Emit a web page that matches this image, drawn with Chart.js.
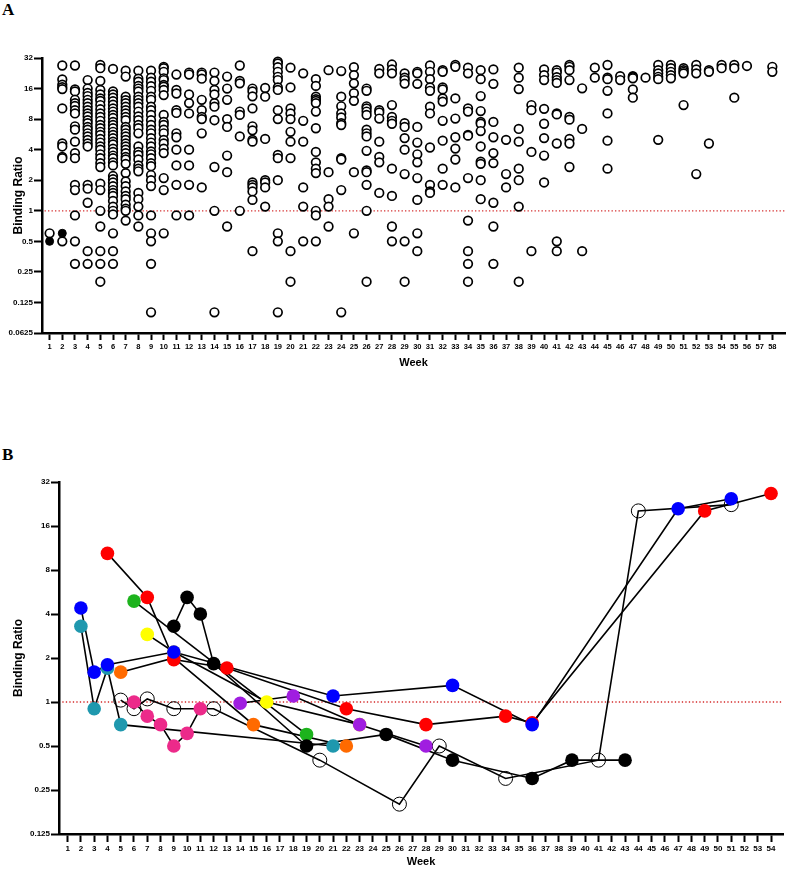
<!DOCTYPE html>
<html lang="en">
<head>
<meta charset="UTF-8">
<title>Binding Ratio by Week</title>
<script src="https://cdn.jsdelivr.net/npm/chart.js"></script>
<style>
  body { margin: 0; background: #fff; width: 791px; height: 869px; position: relative; overflow: hidden; }
  .panel-label { position: absolute; left: 2px; font: bold 17px "Liberation Serif", "Times New Roman", serif; line-height: 17px; color: #000; }
  canvas { position: absolute; left: 0; }
</style>
</head>
<body>
<div class="panel-label" style="top:1px">A</div>
<canvas id="chartA" width="791" height="385" style="top:0;width:791px;height:385px"></canvas>
<div class="panel-label" style="top:446px">B</div>
<canvas id="chartB" width="791" height="479" style="top:390px;width:791px;height:479px"></canvas>

<script>
// ---- panel A: all samples, binding ratio per week ----
var weekTicksA = [1,2,3,4,5,6,7,8,9,10,11,12,13,14,15,16,17,18,19,20,21,22,23,24,25,26,27,28,29,
                  30,31,32,33,34,35,36,37,38,39,40,41,42,43,44,45,46,47,48,49,50,51,52,53,54,55,56,57,58];
var ratioTicksA = [0.0625, 0.125, 0.25, 0.5, 1, 2, 4, 8, 16, 32];

// open circles, one list per week (week 1 .. 58)
var ratiosA = [
  [0.6],
  [27, 19.7, 17.5, 16.5, 15.8, 10.2, 4.6, 4.3, 3.4, 3.3, 0.5],
  [27, 15.7, 15, 12.4, 11.5, 10.8, 9.8, 9.1, 6.8, 6.3, 4.8, 3.7, 3.3, 1.8, 1.6, 0.9, 0.5, 0.3],
  [19.4, 16, 14.5, 13.5, 12.4, 11.5, 10.6, 9.8, 9.1, 8.5, 7.8, 7.3, 6.7, 6.3, 5.8, 5.4, 5.0, 4.6, 4.3, 1.8, 1.65, 1.2, 0.4, 0.3],
  [27.3, 25.4, 19, 15.5, 14, 12.8, 12.1, 11, 10, 9.1, 8.4, 7.7, 7.0, 6.5, 6.0, 5.6, 5.1, 4.7, 4.3, 4.0, 3.6, 3.3, 2.95, 2.7, 1.85, 1.6, 1.0, 0.7, 0.4, 0.3, 0.2],
  [25, 15, 14, 13, 12, 11.1, 10.2, 9.5, 8.8, 8.2, 7.5, 7, 6.5, 6, 5.6, 5.2, 4.8, 4.5, 4.1, 3.8, 3.5, 3.3, 3.0, 2.8, 2.2, 2.05, 1.9, 1.75, 1.6, 1.5, 1.4, 1.25, 1.1, 1.0, 0.92, 0.6, 0.4, 0.3],
  [24, 21, 13.3, 12.3, 11.5, 10.6, 9.8, 9.1, 8.4, 7.8, 6.7, 6.3, 5.8, 5.4, 5.0, 4.6, 4.3, 4.0, 3.7, 3.4, 3.2, 2.9, 2.35, 1.95, 1.75, 1.55, 1.4, 1.3, 1.15, 1.05, 1.0, 0.8],
  [24, 20, 18.7, 17, 16, 15, 13.3, 12.4, 11.5, 10.6, 9.5, 8.5, 7.8, 7.0, 6.5, 5.8, 4.3, 3.8, 3.55, 3.2, 2.8, 2.6, 2.45, 1.5, 1.3, 1.1, 0.9, 0.7],
  [24, 20.5, 18.7, 16.9, 15.2, 13.3, 12.4, 10.6, 9.8, 8.8, 7.8, 7.0, 6.3, 5.8, 5.2, 4.7, 4.3, 3.85, 3.6, 3.3, 2.95, 2.75, 2.25, 2.0, 1.75, 0.9, 0.6, 0.5, 0.3, 0.1],
  [26.2, 25.4, 23.4, 20.2, 19.4, 17.4, 16.7, 15.5, 13.8, 8.8, 7.5, 7.0, 6.3, 5.8, 5.0, 4.6, 4.1, 3.7, 2.1, 1.6, 0.6],
  [22, 15.5, 14.3, 9.8, 9.2, 5.8, 5.3, 4, 2.8, 1.8, 0.9],
  [23, 22, 14, 11.5, 9.1, 4, 2.8, 1.8, 0.9],
  [23, 22, 20, 12.4, 9.8, 8.4, 8, 5.8, 1.7],
  [23, 19, 15.5, 14, 11.5, 10.6, 7.8, 2.7, 1.0, 0.1],
  [21, 16, 12.4, 8, 6.7, 3.5, 2.4, 0.7],
  [27, 19, 18, 9.5, 8.8, 5.4, 1.0],
  [16, 15, 13.4, 10.2, 6.8, 6.2, 5, 4.8, 1.9, 1.8, 1.7, 1.55, 1.28, 0.4],
  [16.2, 13.3, 5.1, 2.0, 1.9, 1.7, 1.1],
  [29.4, 28.3, 26, 23.4, 20.9, 19.4, 16.4, 15.5, 9.8, 8, 3.55, 3.3, 2.0, 0.6, 0.5, 0.1],
  [25.7, 16.4, 10.2, 9.1, 8, 6.0, 4.8, 3.3, 0.4, 0.2],
  [22.6, 7.7, 4.8, 1.7, 1.1, 0.5],
  [19.8, 17, 13.3, 12.6, 12.1, 11.5, 9.5, 6.5, 3.8, 3.0, 2.6, 2.35, 1.0, 0.9, 0.5],
  [24.3, 2.4, 1.3, 1.1, 0.7],
  [23.8, 13.3, 10.7, 9.1, 8.3, 7.3, 7, 3.3, 3.2, 1.6, 0.1],
  [26, 21.7, 18, 14.4, 12.1, 2.4, 0.6],
  [16, 15.2, 10.7, 10.2, 9.5, 8.8, 6.3, 5.8, 5.4, 3.9, 2.5, 2.4, 1.8, 1.0, 0.2],
  [25, 22.6, 9.8, 9.3, 8.1, 4.8, 3.4, 3, 1.5],
  [27.6, 24.7, 22.6, 11, 8.4, 7.7, 7.2, 2.6, 1.4, 0.7, 0.5],
  [22.6, 20.5, 19.4, 17.9, 7.3, 6.7, 5.2, 4, 2.3, 0.5, 0.2],
  [23.4, 22.6, 17.8, 6.7, 4.7, 3.6, 3.0, 2.1, 1.28, 0.6, 0.4],
  [27, 23.4, 19.8, 16.4, 15.2, 10.6, 9.1, 4.2, 1.8, 1.55, 1.5],
  [24.3, 23.4, 16.4, 15.7, 12.8, 11.9, 7.7, 4.9, 2.6, 1.8],
  [27.3, 26.2, 12.8, 8.1, 5.3, 4.1, 3.2, 1.7],
  [25.7, 22.6, 10.2, 9.5, 5.6, 5.5, 2.1, 0.8, 0.4, 0.3, 0.2],
  [24.3, 19.8, 13.5, 9.6, 7.5, 7.2, 6.1, 4.3, 3.05, 2.9, 2.0, 1.3],
  [24.7, 17.8, 7.5, 5.3, 3.7, 2.95, 1.2, 0.7, 0.3],
  [5.0, 2.3, 1.7],
  [25.7, 20.5, 15.8, 6.4, 4.8, 2.6, 2.0, 1.1, 0.2],
  [11, 9.8, 3.8, 0.4],
  [24.7, 21.7, 19.4, 10.1, 7.2, 5.2, 3.5, 1.9],
  [24.3, 23, 20.7, 19.4, 18.2, 9.1, 8.9, 4.6, 0.5, 0.4],
  [27.3, 26.2, 24.3, 19.4, 8.4, 7.9, 5.1, 4.6, 2.7],
  [16.1, 6.4, 0.4],
  [25.7, 20.5],
  [27.3, 20.5, 19.8, 15.2, 9.1, 4.9, 2.6],
  [21.2, 19.4],
  [21.2, 20.7, 20.2, 15.7, 13.0],
  [20.5],
  [27.3, 24.3, 22.6, 20.9, 19.8, 5.0],
  [27.3, 25.4, 23.4, 21.7, 20.2],
  [25.4, 24.3, 23.4, 22.6, 11],
  [27.3, 24.7, 22.6, 2.3],
  [24.3, 23.4, 4.6],
  [27.3, 25.4],
  [27.3, 25.4, 13],
  [26.7],
  [],
  [26.2, 23.4]
];
// filled circles
var filledWeeksA = [1, 2];
var filledRatiosA = [0.5, 0.6];

// ---- panel B: individual patients over time ----
var weekTicksB = [1,2,3,4,5,6,7,8,9,10,11,12,13,14,15,16,17,18,19,20,21,22,23,24,25,26,27,
                  28,29,30,31,32,33,34,35,36,37,38,39,40,41,42,43,44,45,46,47,48,49,50,51,52,53,54];
var ratioTicksB = [0.125, 0.25, 0.5, 1, 2, 4, 8, 16, 32];

var blueWeeks   = [2, 3, 4, 9, 21, 30, 36, 47, 51];
var blueRatios  = [4.4, 1.6, 1.8, 2.2, 1.1, 1.3, 0.7, 21, 24.6];
var blackWeeks  = [9, 10, 11, 12, 19, 25, 30, 36, 39, 43];
var blackRatios = [3.3, 5.2, 4.0, 1.83, 0.5, 0.6, 0.4, 0.3, 0.4, 0.4];
var purpleWeeks  = [14, 18, 23, 28];
var purpleRatios = [0.98, 1.1, 0.7, 0.5];
var pinkWeeks   = [6, 7, 8, 9, 10, 11];
var pinkRatios  = [1.0, 0.8, 0.7, 0.5, 0.61, 0.9];
var redWeeks    = [4, 7, 9, 13, 22, 28, 34, 36, 49, 54];
var redRatios   = [10.4, 5.2, 1.95, 1.71, 0.9, 0.7, 0.8, 0.72, 20.3, 26.7];
var tealWeeks   = [2, 3, 4, 5, 21];
var tealRatios  = [3.3, 0.9, 1.7, 0.7, 0.5];
var orangeWeeks  = [5, 9, 15, 22];
var orangeRatios = [1.6, 2.0, 0.7, 0.5];
var greenWeeks  = [6, 19];
var greenRatios = [4.9, 0.6];
var yellowWeeks  = [7, 9, 16, 23];
var yellowRatios = [2.9, 2.2, 1.0, 0.7];
var openWeeks   = [5, 6, 7, 9, 12, 20, 26, 29, 34, 41, 44, 51];
var openRatios  = [1.03, 0.9, 1.05, 0.9, 0.9, 0.4, 0.2, 0.5, 0.3, 0.4, 20.3, 22.4];

var FONT = '"Liberation Sans", Arial, sans-serif';

function toPoints(weeks, ratios) {
  return weeks.map(function (w, i) { return { x: w, y: ratios[i] }; });
}

function axisX(min, max, ticks, height, tickLen, labelPad, titlePad, labelSize) {
  return {
    type: 'linear', min: min, max: max,
    afterBuildTicks: function (s) { s.ticks = ticks.map(function (v) { return { value: v }; }); },
    afterFit: function (s) { s.height = height; },
    ticks: { autoSkip: false, maxRotation: 0, minRotation: 0, padding: labelPad, color: '#000',
             font: { family: FONT, size: labelSize, weight: 'bold' },
             callback: function (v) { return String(v); } },
    grid: { drawOnChartArea: false, tickLength: tickLen, tickWidth: 2, tickColor: '#000', color: '#000' },
    border: { color: '#000', width: 2.5 },
    title: { display: true, text: 'Week', color: '#000', font: { family: FONT, size: 11, weight: 'bold' },
             padding: { top: 0, bottom: titlePad } }
  };
}

function axisY(min, max, ticks, width, tickLen, titlePad) {
  return {
    type: 'logarithmic', min: min, max: max,
    afterBuildTicks: function (s) { s.ticks = ticks.map(function (v) { return { value: v }; }); },
    afterFit: function (s) { s.width = width; },
    ticks: { padding: 1, color: '#000', font: { family: FONT, size: 8, weight: 'bold' },
             callback: function (v) { return String(v); } },
    grid: { drawOnChartArea: false, tickLength: tickLen, tickWidth: 2, tickColor: '#000', color: '#000' },
    border: { color: '#000', width: 2.5 },
    title: { display: true, text: 'Binding Ratio', color: '#000', font: { family: FONT, size: 12, weight: 'bold' },
             padding: { top: titlePad, bottom: 0 } }
  };
}

// panel A data
var openA = [];
ratiosA.forEach(function (list, i) {
  list.forEach(function (v) { openA.push({ x: weekTicksA[i], y: v }); });
});

new Chart(document.getElementById('chartA'), {
  type: 'scatter',
  data: {
    datasets: [
      { data: toPoints(filledWeeksA, filledRatiosA), pointRadius: 4, pointBackgroundColor: '#000',
        pointBorderColor: '#000', pointBorderWidth: 1, clip: false },
      { data: openA, pointRadius: 4.3, pointBackgroundColor: '#fff', pointBorderColor: '#000',
        pointBorderWidth: 1.7, clip: false },
      { data: [{ x: 0.6, y: 1 }, { x: 59, y: 1 }], showLine: true, borderColor: '#d42a2a', borderWidth: 1.3,
        borderDash: [1.3, 2.2], pointRadius: 0, order: 5 }
    ]
  },
  options: {
    responsive: false, animation: false, devicePixelRatio: 1,
    layout: { padding: { top: 58, right: 1, left: 0, bottom: 0 } },
    plugins: { legend: { display: false }, tooltip: { enabled: false } },
    scales: {
      x: axisX(0.4, 59, weekTicksA, 52, 7, 2, 15, 7.5),
      y: axisY(0.0625, 32, ratioTicksA, 42, 8, 11)
    }
  }
});

// panel B data
var patientsB = [
  { weeks: blueWeeks,   ratios: blueRatios,   color: '#0000ff' },
  { weeks: blackWeeks,  ratios: blackRatios,  color: '#000000' },
  { weeks: purpleWeeks, ratios: purpleRatios, color: '#a01ee0' },
  { weeks: pinkWeeks,   ratios: pinkRatios,   color: '#ec2a8a' },
  { weeks: redWeeks,    ratios: redRatios,    color: '#ff0000' },
  { weeks: tealWeeks,   ratios: tealRatios,   color: '#1f98ae' },
  { weeks: orangeWeeks, ratios: orangeRatios, color: '#ff6a00' },
  { weeks: greenWeeks,  ratios: greenRatios,  color: '#1db31d' },
  { weeks: yellowWeeks, ratios: yellowRatios, color: '#ffff00' },
  { weeks: openWeeks,   ratios: openRatios,   color: null }
];

var datasetsB = [];
patientsB.forEach(function (p, i) {
  var pts = toPoints(p.weeks, p.ratios);
  // markers on top
  datasetsB.push({
    data: pts, order: i, clip: false,
    pointRadius: p.color ? 6.8 : 7,
    pointBackgroundColor: p.color ? p.color : 'rgba(0,0,0,0)',
    pointBorderColor: p.color ? p.color : '#000',
    pointBorderWidth: p.color ? 0 : 1
  });
  // connecting line underneath
  datasetsB.push({
    data: pts, order: 20 + i, clip: false, showLine: true, pointRadius: 0,
    borderColor: '#000', borderWidth: 1.6
  });
});
datasetsB.push({ data: [{ x: 0.6, y: 1 }, { x: 54.9, y: 1 }], showLine: true, borderColor: '#d42a2a',
  borderWidth: 1.3, borderDash: [1.3, 2.2], pointRadius: 0, order: 40 });

new Chart(document.getElementById('chartB'), {
  type: 'scatter',
  data: { datasets: datasetsB },
  options: {
    responsive: false, animation: false, devicePixelRatio: 1,
    layout: { padding: { top: 92, right: 1, left: 0, bottom: 0 } },
    plugins: { legend: { display: false }, tooltip: { enabled: false } },
    scales: {
      x: axisX(0.35, 54.9, weekTicksB, 35, 8, 2, 0, 8),
      y: axisY(0.125, 32, ratioTicksB, 59, 8, 11)
    }
  }
});
</script>
</body>
</html>
